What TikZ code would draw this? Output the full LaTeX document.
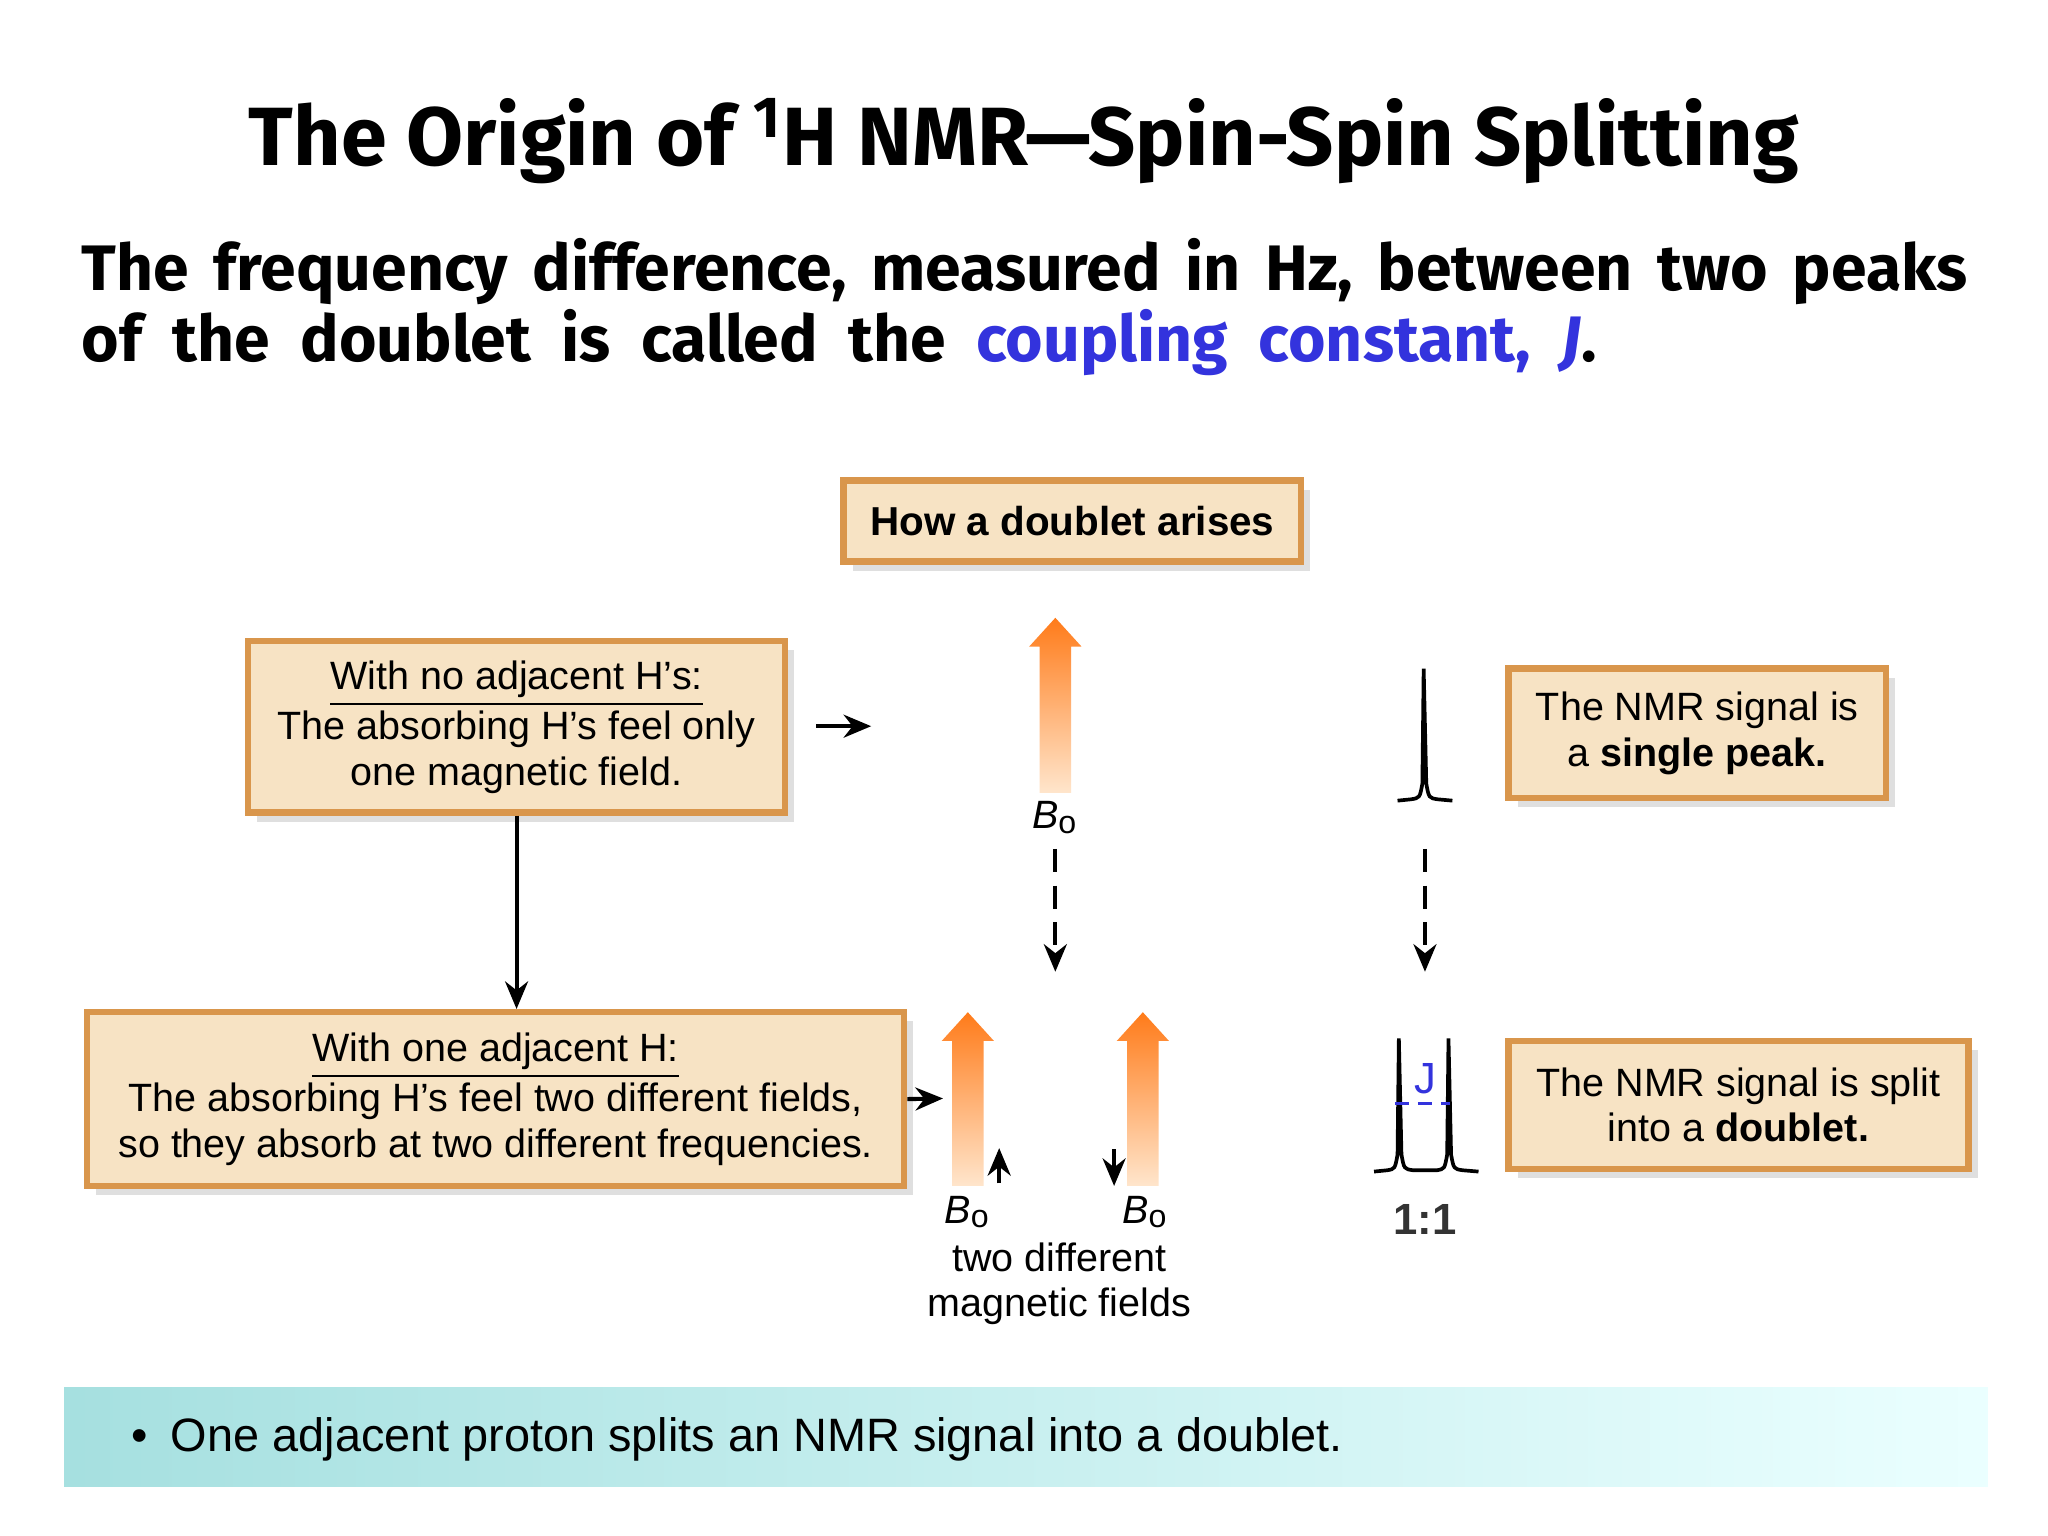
\documentclass[tikz,border=0pt]{standalone}
\usepackage{fontspec}
\setmainfont{Liberation Sans}
\newfontfamily\titlef{Fira Sans}
\usetikzlibrary{shadows,arrows.meta}
\definecolor{boxfill}{HTML}{F7E3C4}
\definecolor{boxdraw}{HTML}{D9964C}
\definecolor{jblue}{HTML}{3333DD}
\begin{document}
\begin{tikzpicture}[x=0.01cm,y=-0.01cm,
  box/.style={draw=boxdraw,line width=1.4pt,fill=boxfill,drop shadow={shadow xshift=2pt,shadow yshift=-2pt,opacity=0.25},inner sep=0pt,align=center,font=\fontsize{8.6}{9.9}\selectfont},
  arr/.style={-{Stealth[length=6pt,width=5pt]},line width=0.9pt},
  darr/.style={arr,dash pattern=on 5pt off 3pt},
  txt/.style={font=\fontsize{8.6}{9.9}\selectfont},
  bo/.style={font=\fontsize{8.6}{11}\selectfont\itshape},
  peak/.style={line width=0.8pt}]
\useasboundingbox (0,0) rectangle (1568,1176);
\fill[white] (0,0) rectangle (1568,1176);
\node (title) at (784,108) {\titlef\bfseries\fontsize{18}{22}\selectfont The Origin of \textsuperscript{1}H NMR—Spin-Spin Splitting};
\node[anchor=west,text width=14.43cm,align=justify,inner sep=0pt] (sub) at (62,235) {\titlef\bfseries\fontsize{14}{15.6}\selectfont The\ \ frequency\ \ difference,\ \ measured\ \ in\ \ Hz,\ \ between\ \ two\ \ peaks of\ \ the\ \ doublet\ \ is\ \ called\ \ the\ \ \textcolor{jblue}{coupling\ \ constant,\ \ \textit{J}}.};
% header box
\node[box,minimum width=3.5cm,minimum height=0.62cm,font=\fontsize{8.8}{12}\selectfont\bfseries] (how) at (821,399) {How a doublet arises};
% box1
\node[box,minimum width=4.11cm,minimum height=1.31cm] (b1) at (395.5,556.5) {\underline{With no adjacent H's:}\\The absorbing H's feel only\\one magnetic field.};
\coordinate (a1s) at (625,556); \coordinate (a1e) at (667,556);
\draw[arr] (a1s) -- (a1e);
% box2
\node[box,minimum width=6.25cm,minimum height=1.33cm] (b2) at (379.5,841.5) {\underline{With one adjacent H:}\\The absorbing H's feel two different fields,\\so they absorb at two different frequencies.};
\draw[arr] (b1.south) -- (b1.south |- b2.north);
\coordinate (a2e) at (722,841);
\draw[arr] (b2.east) -- (a2e);
% orange arrows
\foreach \cx/\by/\ty in {808/607/473,741/908/775,875/908/775}{
  \shade[top color=orange!85!red!90,bottom color=orange!20] (\cx-12,\by) -- (\cx-12,\ty+22) -- (\cx-20,\ty+22) -- (\cx,\ty) -- (\cx+20,\ty+22) -- (\cx+12,\ty+22) -- (\cx+12,\by) -- cycle;
}
\node[bo] (bo1) at (808,626) {B\textsubscript{\normalfont\scriptsize o}};
\node[bo] (bo2) at (741,928) {B\textsubscript{\normalfont\scriptsize o}};
\node[bo] (bo3) at (877,928) {B\textsubscript{\normalfont\scriptsize o}};
\coordinate (u1) at (765,906); \coordinate (u2) at (765,879);
\draw[arr] (u1) -- (u2);
\coordinate (d1) at (853,880); \coordinate (d2) at (853,908);
\draw[arr] (d1) -- (d2);
\node[txt,align=center] (two) at (811,983) {two different\\magnetic fields};
\coordinate (ds1) at (808,650); \coordinate (de1) at (808,744);
\draw[darr] (ds1) -- (de1);
\coordinate (ds2) at (1091,650); \coordinate (de2) at (1091,744);
\draw[darr] (ds2) -- (de2);
% singlet peak
\draw[peak] (1070,613) -- (1080,612) .. controls (1087,611) .. (1089,600) -- (1090,512) -- (1092,600) .. controls (1094,611) .. (1101,612) -- (1112,613);
% doublet
\draw[peak] (1052,897) -- (1062,896) .. controls (1068,895) .. (1070,884) -- (1071,795) -- (1073,884) .. controls (1075,895) .. (1082,896) -- (1100,896) .. controls (1106,895) .. (1108,884) -- (1109,795) -- (1111,884) .. controls (1113,895) .. (1120,896) -- (1132,897);
\draw[jblue,line width=0.7pt,dash pattern=on 3pt off 2pt] (1068,845) -- (1110,845);
\node[text=jblue,font=\fontsize{9.5}{12}\selectfont] (J) at (1091,826) {J};
\node[font=\fontsize{9.5}{12}\selectfont\bfseries,text=black!80] (ratio) at (1091,934) {1:1};
% right boxes
\node[box,minimum width=2.89cm,minimum height=0.99cm] (s1) at (1299.5,561.5) {The NMR signal is\\a \textbf{single peak.}};
\node[box,minimum width=3.52cm,minimum height=0.98cm] (s2) at (1331,846) {The NMR signal is split\\into a \textbf{doublet.}};
% bottom band
\shade[left color=cyan!30!teal!35!white,right color=cyan!8!white] (49,1062) rectangle (1522,1138);
\node[anchor=west,font=\fontsize{10.2}{12}\selectfont] (bul) at (88,1102) {\textbullet\hspace{0.5em}One adjacent proton splits an NMR signal into a doublet.};
\end{tikzpicture}
\end{document}
